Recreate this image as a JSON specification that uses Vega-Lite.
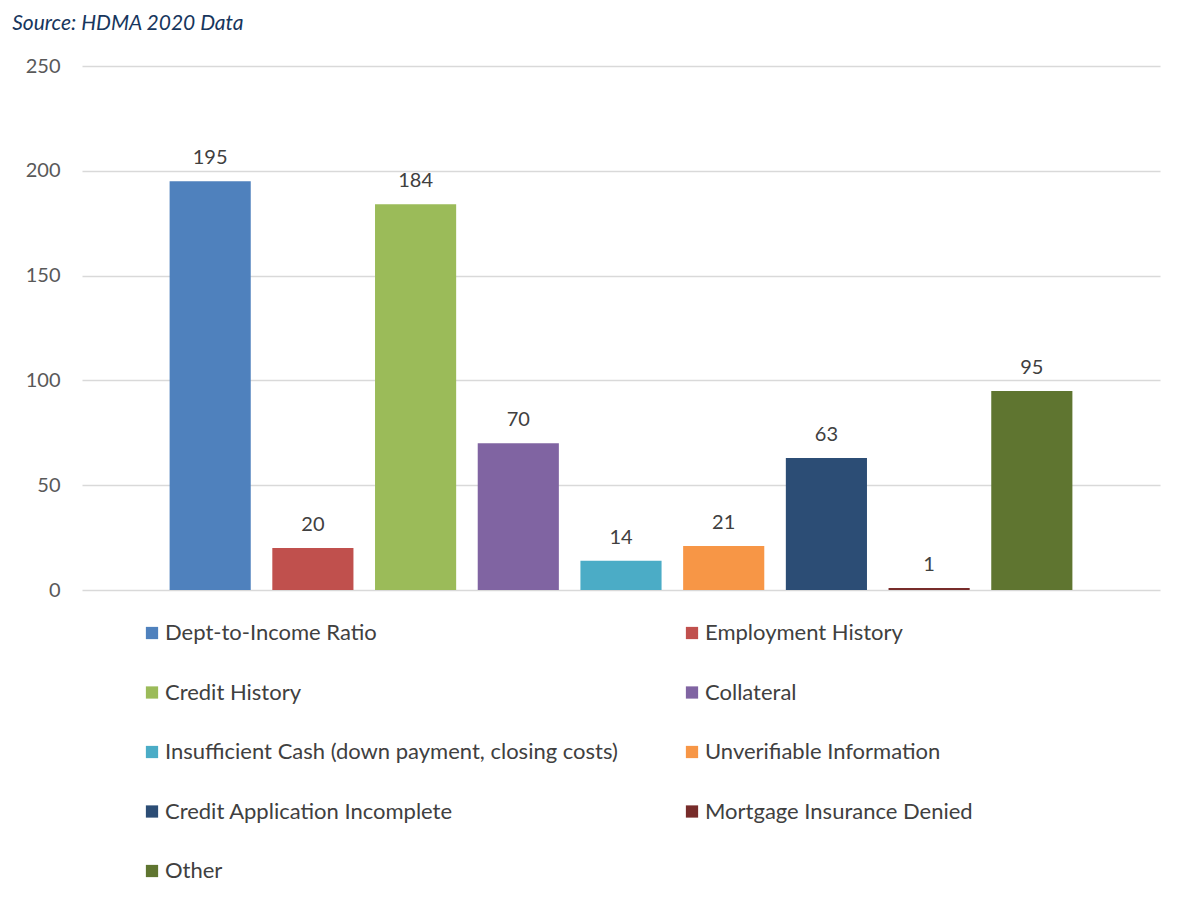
{
  "$schema": "https://vega.github.io/schema/vega-lite/v6.json",
  "width": 1078,
  "height": 524,
  "autosize": {"type": "none"},
  "padding": {"left": 82, "top": 66, "right": 21, "bottom": 321},
  "background": "white",
  "title": {
    "text": "Source: HDMA 2020 Data",
    "anchor": "start",
    "dx": -13,
    "offset": 22,
    "font": "Lato",
    "fontSize": 21,
    "fontStyle": "italic",
    "fontWeight": "normal",
    "color": "#17365d"
  },
  "data": {
    "values": [
      {"reason": "Dept-to-Income Ratio", "count": 195},
      {"reason": "Employment History", "count": 20},
      {"reason": "Credit History", "count": 184},
      {"reason": "Collateral", "count": 70},
      {"reason": "Insufficient Cash (down payment, closing costs)", "count": 14},
      {"reason": "Unverifiable Information", "count": 21},
      {"reason": "Credit Application Incomplete", "count": 63},
      {"reason": "Mortgage Insurance Denied", "count": 1},
      {"reason": "Other", "count": 95}
    ]
  },
  "encoding": {
    "x": {
      "field": "reason",
      "type": "nominal",
      "sort": null,
      "axis": null,
      "scale": {"paddingInner": 0.21, "paddingOuter": 0.853}
    },
    "y": {
      "field": "count",
      "type": "quantitative",
      "scale": {"domain": [0, 250]},
      "axis": {
        "values": [0, 50, 100, 150, 200, 250],
        "title": null,
        "domain": false,
        "ticks": false,
        "labelFont": "Lato",
        "labelFontSize": 20,
        "labelColor": "#595959",
        "labelPadding": 22,
        "gridColor": "#d9d9d9",
        "gridWidth": 1.5
      }
    }
  },
  "layer": [
    {
      "mark": {"type": "bar"},
      "encoding": {
        "color": {
          "field": "reason",
          "type": "nominal",
          "scale": {
            "domain": ["Dept-to-Income Ratio", "Credit History", "Insufficient Cash (down payment, closing costs)", "Credit Application Incomplete", "Other", "Employment History", "Collateral", "Unverifiable Information", "Mortgage Insurance Denied"],
            "range": ["#4f81bd", "#9bbb59", "#4bacc6", "#2c4d75", "#5f7530", "#c0504d", "#8064a2", "#f79646", "#772c2a"]
          },
          "legend": {
            "title": null,
            "orient": "none",
            "legendX": 59,
            "legendY": 556,
            "columns": 2,
            "columnPadding": 63,
            "rowPadding": 37.5,
            "symbolType": "square",
            "symbolSize": 150,
            "symbolStrokeWidth": 0,
            "labelFont": "Lato",
            "labelFontSize": 22,
            "labelColor": "#404040",
            "labelOffset": 2,
            "labelLimit": 600
          }
        }
      }
    },
    {
      "mark": {"type": "text", "dy": -17, "baseline": "alphabetic", "font": "Lato", "fontSize": 20, "color": "#404040"},
      "encoding": {"text": {"field": "count", "type": "quantitative"}}
    }
  ],
  "config": {"view": {"stroke": null}}
}
